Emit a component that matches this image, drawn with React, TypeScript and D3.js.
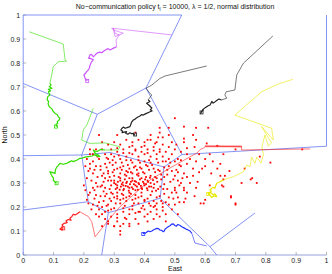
import React from "react";
import * as d3 from "d3";

type P = [number, number];

const xTicks = [0, 0.1, 0.2, 0.3, 0.4, 0.5, 0.6, 0.7, 0.8, 0.9, 1];
const xTickLabels = ["0", "0.1", "0.2", "0.3", "0.4", "0.5", "0.6", "0.7", "0.8", "0.9", "1"];
const yTicks = [0, 0.1, 0.2, 0.3, 0.4, 0.5, 0.6, 0.7, 0.8, 0.9, 1];
const yTickLabels = ["0", "0.1", "0.2", "0.3", "0.4", "0.5", "0.6", "0.7", "0.8", "0.9", "1"];

// Voronoi vertices / border points (data units)
const V1: P = [0.2443, 0.5863];
const V2: P = [0.4049, 0.6958];
const V3: P = [0.5236, 0.4188];
const V4: P = [0.4511, 0.2363];
const V5: P = [0.4642, 0.3667];
const V6: P = [0.1929, 0.4167];
const V7: P = [0.2146, 0.2221];
const V8: P = [0.2806, 0.1763];
const V9: P = [0.6159, 0.0346];
const VM: P = [0.2862, 0.4271];
const L1: P = [0, 0.7146];
const L2: P = [0, 0.4138];
const L3: P = [0, 0.1875];
const T1: P = [0.5226, 1];
const R1: P = [1, 0.4533];
const B1: P = [0.2588, 0];
const B2: P = [0.638, 0];
const D1: P = [0.7643, 0.175];

const voronoiEdges: P[][] = [
  [L1, V1], [V1, V2], [V2, T1], [V2, V3], [V3, R1], [V1, V6], [L2, V6],
  [V6, VM, V5], [V5, V3], [V5, V4], [V6, V7], [V7, L3], [V7, V8], [V8, B1],
  [V8, V4], [V4, V9], [V9, B2], [V9, D1],
  [[0, 0], [0, 1], T1], [[1, 1], R1],
];

const greenUpperTravel: P[] = [[0.02, 0.93], [0.132, 0.879], [0.138, 0.813], [0.143, 0.808], [0.116, 0.805], [0.099, 0.785], [0.094, 0.75], [0.088, 0.715]];
const greenUpperCluster: P[] = [[0.088, 0.715], [0.092, 0.708], [0.086, 0.701], [0.095, 0.695], [0.083, 0.69], [0.09, 0.684], [0.083, 0.68], [0.088, 0.667], [0.081, 0.66], [0.079, 0.646], [0.084, 0.64], [0.082, 0.63], [0.086, 0.618], [0.094, 0.61], [0.098, 0.6], [0.105, 0.59], [0.112, 0.585], [0.116, 0.575], [0.121, 0.57], [0.118, 0.562], [0.112, 0.555], [0.114, 0.549], [0.108, 0.545], [0.11, 0.538], [0.108, 0.535]];

const magentaTravel: P[] = [[0.49, 0.917], [0.292, 0.945], [0.297, 0.938], [0.33, 0.924], [0.303, 0.91], [0.297, 0.945], [0.303, 0.924], [0.317, 0.917], [0.306, 0.896], [0.308, 0.868]];
const magentaCluster: P[] = [[0.308, 0.868], [0.298, 0.862], [0.286, 0.854], [0.28, 0.86], [0.275, 0.857], [0.266, 0.85], [0.259, 0.843], [0.25, 0.845], [0.242, 0.84], [0.236, 0.832], [0.231, 0.826], [0.225, 0.836], [0.22, 0.833], [0.218, 0.826], [0.215, 0.82], [0.224, 0.818], [0.231, 0.813], [0.226, 0.806], [0.223, 0.799], [0.22, 0.79], [0.218, 0.778], [0.214, 0.77], [0.209, 0.764], [0.205, 0.756], [0.2, 0.75], [0.203, 0.742], [0.204, 0.736], [0.209, 0.73], [0.211, 0.725]];

const blackUpperTravel: P[] = [[0.823, 0.9125], [0.726, 0.799], [0.704, 0.75], [0.698, 0.6875], [0.669, 0.68], [0.665, 0.667], [0.671, 0.653], [0.654, 0.646]];
const blackUpperCluster: P[] = [[0.654, 0.646], [0.645, 0.65], [0.638, 0.644], [0.632, 0.638], [0.626, 0.633], [0.622, 0.64], [0.616, 0.625], [0.61, 0.622], [0.605, 0.618], [0.6, 0.614], [0.596, 0.61], [0.592, 0.606], [0.594, 0.604], [0.588, 0.598], [0.585, 0.59], [0.588, 0.594]];

const blackLowerTravel: P[] = [[0.605, 0.7875], [0.468, 0.746], [0.451, 0.736], [0.424, 0.708], [0.405, 0.695], [0.416, 0.676], [0.424, 0.667], [0.412, 0.646]];
const blackLowerCluster: P[] = [[0.412, 0.646], [0.418, 0.64], [0.407, 0.632], [0.414, 0.625], [0.424, 0.6125], [0.419, 0.605], [0.425, 0.6], [0.418, 0.597], [0.41, 0.592], [0.403, 0.588], [0.396, 0.583], [0.39, 0.585], [0.384, 0.578], [0.38, 0.576], [0.372, 0.57], [0.368, 0.565], [0.363, 0.5625], [0.358, 0.555], [0.355, 0.545], [0.352, 0.535], [0.345, 0.532], [0.336, 0.528], [0.33, 0.533], [0.325, 0.527], [0.322, 0.521], [0.328, 0.516], [0.326, 0.51], [0.333, 0.512], [0.341, 0.514], [0.338, 0.507], [0.345, 0.503], [0.352, 0.509], [0.358, 0.505], [0.363, 0.507], [0.367, 0.5], [0.369, 0.502]];

const yellowTravel: P[] = [[0.889, 0.732], [0.841, 0.7125], [0.786, 0.68], [0.698, 0.583], [0.819, 0.528], [0.825, 0.479], [0.786, 0.535], [0.819, 0.467], [0.808, 0.454], [0.797, 0.5], [0.787, 0.45], [0.792, 0.417], [0.784, 0.383], [0.77, 0.408], [0.764, 0.382], [0.753, 0.408], [0.748, 0.368], [0.737, 0.375], [0.726, 0.347], [0.715, 0.34], [0.693, 0.326], [0.676, 0.32], [0.66, 0.3125]];
const yellowCluster: P[] = [[0.66, 0.3125], [0.655, 0.31], [0.649, 0.305], [0.644, 0.302], [0.638, 0.299], [0.635, 0.29], [0.632, 0.278], [0.625, 0.282], [0.616, 0.271], [0.62, 0.265], [0.61, 0.257], [0.618, 0.26], [0.627, 0.25], [0.632, 0.255], [0.638, 0.243], [0.63, 0.246], [0.621, 0.24], [0.615, 0.25], [0.61, 0.254]];

const blueTravel: P[] = [[0.605, 0.0375], [0.566, 0.05], [0.56, 0.075], [0.556, 0.09]];
const blueCluster: P[] = [[0.556, 0.09], [0.55, 0.1], [0.544, 0.104], [0.537, 0.108], [0.53, 0.113], [0.523, 0.118], [0.516, 0.124], [0.51, 0.127], [0.505, 0.12], [0.5, 0.123], [0.495, 0.13], [0.49, 0.129], [0.484, 0.122], [0.478, 0.118], [0.472, 0.112], [0.468, 0.108], [0.465, 0.1], [0.462, 0.097], [0.456, 0.103], [0.451, 0.104], [0.446, 0.11], [0.44, 0.111], [0.434, 0.107], [0.429, 0.104], [0.424, 0.1], [0.418, 0.097], [0.412, 0.1], [0.408, 0.096], [0.402, 0.09], [0.398, 0.094], [0.396, 0.0875]];

const greenLowerTravel: P[] = [[0.231, 0.611], [0.21, 0.542], [0.198, 0.521], [0.193, 0.479], [0.22, 0.465], [0.27, 0.467], [0.319, 0.451], [0.313, 0.4375], [0.27, 0.4375]];
const greenLowerCluster: P[] = [[0.27, 0.4375], [0.255, 0.44], [0.245, 0.432], [0.237, 0.433], [0.231, 0.4375], [0.236, 0.426], [0.24, 0.421], [0.248, 0.416], [0.253, 0.41], [0.244, 0.412], [0.235, 0.418], [0.227, 0.4125], [0.215, 0.41], [0.204, 0.408], [0.195, 0.404], [0.187, 0.403], [0.178, 0.396], [0.165, 0.389], [0.16, 0.393], [0.154, 0.389], [0.148, 0.385], [0.143, 0.382], [0.132, 0.378], [0.121, 0.382], [0.115, 0.372], [0.111, 0.367], [0.106, 0.355], [0.105, 0.34], [0.095, 0.344], [0.088, 0.347], [0.092, 0.336], [0.095, 0.329], [0.1, 0.32], [0.099, 0.3125], [0.104, 0.305], [0.11, 0.299]];

const redTravel: P[] = [[0.946, 0.442], [0.72, 0.4375], [0.72, 0.454], [0.599, 0.454], [0.72, 0.451], [0.6, 0.451], [0.594, 0.445], [0.584, 0.44], [0.572, 0.424], [0.561, 0.417], [0.484, 0.3625], [0.418, 0.3125], [0.319, 0.201], [0.286, 0.153], [0.264, 0.118], [0.237, 0.076], [0.226, 0.139], [0.215, 0.16], [0.187, 0.18]];
const redCluster: P[] = [[0.187, 0.18], [0.178, 0.172], [0.171, 0.167], [0.165, 0.17], [0.16, 0.16], [0.154, 0.153], [0.158, 0.145], [0.148, 0.148], [0.141, 0.142], [0.145, 0.135], [0.135, 0.132], [0.128, 0.125], [0.132, 0.118], [0.125, 0.112], [0.121, 0.108], [0.128, 0.104], [0.132, 0.111]];

const eventPoints: P[] = [
  [0.30,0.30],[0.31,0.28],[0.32,0.31],[0.33,0.29],[0.34,0.30],[0.35,0.28],[0.36,0.31],[0.37,0.29],[0.38,0.30],[0.39,0.28],
  [0.40,0.29],[0.41,0.31],[0.42,0.30],[0.31,0.26],[0.33,0.27],[0.35,0.26],[0.37,0.27],[0.39,0.26],[0.41,0.27],[0.43,0.28],
  [0.30,0.33],[0.32,0.34],[0.34,0.33],[0.36,0.34],[0.38,0.33],[0.40,0.34],[0.42,0.33],[0.44,0.32],[0.29,0.29],[0.28,0.31],
  [0.325,0.295],[0.345,0.285],[0.355,0.305],[0.375,0.285],[0.385,0.315],[0.405,0.295],[0.415,0.285],[0.335,0.315],[0.365,0.295],[0.395,0.305],
  [0.30,0.24],[0.32,0.23],[0.34,0.24],[0.36,0.23],[0.38,0.24],[0.40,0.23],[0.42,0.25],[0.44,0.24],[0.29,0.26],[0.27,0.28],
  [0.31,0.36],[0.33,0.37],[0.35,0.36],[0.37,0.37],[0.39,0.36],[0.41,0.37],[0.43,0.36],[0.45,0.35],[0.28,0.35],[0.26,0.33],
  [0.315,0.325],[0.345,0.345],[0.375,0.355],[0.405,0.325],[0.435,0.345],[0.455,0.315],[0.465,0.295],[0.445,0.275],[0.425,0.265],[0.355,0.255],
  [0.325,0.255],[0.305,0.275],[0.285,0.325],[0.295,0.345],[0.265,0.305],[0.275,0.255],[0.305,0.215],[0.335,0.205],[0.365,0.215],[0.395,0.205],
  [0.415,0.215],[0.435,0.205],[0.455,0.225],[0.465,0.255],[0.475,0.275],[0.485,0.305],[0.475,0.335],[0.465,0.365],[0.445,0.385],[0.415,0.395],
  [0.385,0.385],[0.355,0.395],[0.325,0.385],[0.295,0.375],[0.275,0.365],[0.255,0.355],[0.245,0.325],[0.255,0.285],[0.265,0.265],[0.285,0.235],
  [0.34,0.35],[0.36,0.32],[0.38,0.34],[0.32,0.32],[0.30,0.31],[0.37,0.25],[0.39,0.32],[0.35,0.32],[0.33,0.25],[0.31,0.29],
  [0.21,0.40],[0.22,0.36],[0.21,0.32],[0.20,0.29],[0.22,0.26],[0.21,0.23],[0.23,0.21],[0.22,0.38],[0.23,0.34],[0.24,0.30],
  [0.23,0.42],[0.25,0.40],[0.24,0.37],[0.25,0.22],[0.24,0.25],[0.26,0.20],[0.27,0.18],[0.28,0.21],[0.29,0.19],[0.31,0.17],
  [0.33,0.18],[0.35,0.17],[0.36,0.19],[0.38,0.18],[0.40,0.19],[0.42,0.18],[0.44,0.19],[0.46,0.20],[0.47,0.22],[0.48,0.24],
  [0.49,0.26],[0.50,0.28],[0.51,0.31],[0.50,0.33],[0.49,0.35],[0.48,0.37],[0.47,0.39],[0.46,0.41],[0.44,0.42],[0.42,0.41],
  [0.40,0.42],[0.38,0.41],[0.36,0.42],[0.34,0.41],[0.32,0.40],[0.30,0.41],[0.28,0.40],[0.27,0.42],[0.26,0.44],[0.29,0.44],
  [0.31,0.43],[0.33,0.44],[0.35,0.45],[0.37,0.44],[0.39,0.45],[0.41,0.44],[0.43,0.45],[0.45,0.44],[0.47,0.43],[0.49,0.42],
  [0.51,0.40],[0.52,0.37],[0.53,0.34],[0.52,0.30],[0.53,0.27],[0.51,0.24],[0.50,0.21],[0.49,0.19],[0.47,0.17],[0.45,0.16],
  [0.43,0.15],[0.40,0.16],[0.37,0.15],[0.34,0.15],[0.31,0.14],[0.29,0.16],[0.27,0.15],[0.30,0.12],[0.33,0.13],[0.26,0.12],
  [0.28,0.13],[0.32,0.10],[0.35,0.12],[0.38,0.13],[0.41,0.14],[0.24,0.17],[0.25,0.19],[0.23,0.28],[0.27,0.38],[0.29,0.42],
  [0.24,0.44],[0.22,0.44],[0.26,0.47],[0.28,0.46],[0.30,0.47],[0.32,0.46],[0.34,0.48],[0.36,0.47],[0.38,0.48],[0.40,0.47],
  [0.42,0.48],[0.44,0.47],[0.46,0.46],[0.48,0.45],[0.50,0.44],[0.52,0.43],[0.54,0.42],[0.55,0.40],[0.54,0.38],[0.56,0.36],
  [0.45,0.53],[0.50,0.57],[0.53,0.535],[0.48,0.53],[0.57,0.53],[0.61,0.53],[0.46,0.49],[0.445,0.49],[0.41,0.48],[0.435,0.465],
  [0.49,0.47],[0.505,0.46],[0.53,0.485],[0.56,0.50],[0.565,0.45],[0.54,0.445],[0.57,0.48],[0.605,0.465],[0.64,0.455],[0.615,0.42],
  [0.625,0.39],[0.65,0.38],[0.60,0.37],[0.58,0.345],[0.92,0.44],[0.815,0.385],[0.66,0.315],[0.655,0.29],[0.66,0.285],[0.685,0.24],
  [0.70,0.21],[0.75,0.315],[0.77,0.30],[0.65,0.33],[0.665,0.33],[0.615,0.29],[0.755,0.32],[0.685,0.245],[0.70,0.215],[0.60,0.23],
  [0.595,0.215],[0.585,0.215],[0.565,0.245],[0.535,0.235],[0.515,0.22],[0.50,0.27],[0.53,0.28],[0.54,0.325],[0.575,0.305],[0.43,0.20],
  [0.46,0.215],[0.385,0.18],[0.335,0.155],[0.32,0.12],[0.32,0.085],[0.30,0.12],[0.35,0.13],[0.25,0.50],[0.31,0.50],[0.37,0.51],
  [0.42,0.50],[0.58,0.42],[0.60,0.40],[0.57,0.39],[0.59,0.36],[0.56,0.33],[0.55,0.30],[0.57,0.28],[0.54,0.26],[0.53,0.22],
  [0.51,0.17],[0.47,0.14],[0.62,0.34],[0.64,0.36],[0.68,0.35],[0.72,0.30],[0.73,0.36],[0.78,0.41],[0.66,0.42],[0.70,0.44],
  [0.45,0.51],[0.48,0.50],[0.53,0.47],
  [0.215,0.35],[0.225,0.31],[0.235,0.27],[0.215,0.25],[0.23,0.39],[0.245,0.41],[0.255,0.37],[0.265,0.34],[0.235,0.355],[0.245,0.285],
  [0.255,0.245],[0.265,0.225],[0.275,0.205],[0.285,0.275],[0.295,0.255],[0.285,0.385],[0.275,0.405],[0.295,0.395],[0.305,0.385],[0.315,0.415],
  [0.325,0.355],[0.335,0.335],[0.345,0.375],[0.355,0.345],[0.365,0.365],[0.375,0.335],[0.385,0.365],[0.395,0.345],[0.405,0.375],[0.415,0.355],
  [0.425,0.375],[0.435,0.325],[0.445,0.355],[0.455,0.335],[0.465,0.325],[0.475,0.355],[0.485,0.385],[0.495,0.315],[0.505,0.355],[0.515,0.375],
  [0.312,0.305],[0.322,0.285],[0.332,0.275],[0.342,0.305],[0.352,0.295],[0.362,0.275],[0.372,0.305],[0.382,0.295],[0.392,0.275],[0.402,0.315],
  [0.412,0.305],[0.422,0.285],[0.432,0.295],[0.442,0.305],[0.452,0.285],[0.462,0.275],[0.305,0.295],[0.318,0.272],[0.328,0.302],[0.338,0.288],
  [0.348,0.268],[0.358,0.282],[0.368,0.308],[0.378,0.272],[0.388,0.288],[0.398,0.298],[0.408,0.278],[0.418,0.322],[0.428,0.312],[0.438,0.268],
  [0.31,0.245],[0.33,0.235],[0.35,0.245],[0.37,0.235],[0.39,0.245],[0.41,0.235],[0.43,0.225],[0.45,0.245],[0.32,0.215],[0.34,0.225],
  [0.36,0.205],[0.38,0.215],[0.40,0.225],[0.42,0.205],[0.44,0.215],[0.35,0.19],[0.37,0.175],[0.39,0.195],[0.41,0.17],[0.33,0.195],
  [0.30,0.195],[0.28,0.185],[0.26,0.17],[0.29,0.225],[0.31,0.235],[0.27,0.245],[0.26,0.29],[0.27,0.32],[0.29,0.31],[0.28,0.34],
  [0.30,0.355],[0.32,0.365],[0.34,0.395],[0.36,0.385],[0.38,0.395],[0.40,0.39],[0.42,0.385],[0.44,0.40],[0.46,0.39],[0.48,0.40],
  [0.50,0.39],[0.52,0.395],[0.51,0.345],[0.525,0.32],[0.515,0.29],[0.505,0.26],[0.495,0.235],[0.48,0.21],[0.46,0.185],[0.44,0.17],
  [0.37,0.435],[0.35,0.425],[0.33,0.425],[0.31,0.445],[0.39,0.43],[0.41,0.425],[0.43,0.435],[0.45,0.43],[0.36,0.455],[0.40,0.455],
  [0.22,0.42],[0.205,0.37],[0.205,0.27],[0.215,0.215],[0.235,0.235],[0.245,0.205],[0.225,0.19],[0.25,0.16],[0.28,0.14],[0.31,0.155],
];

const robots = [
  { color: "#33dd00", travel: greenUpperTravel, cluster: greenUpperCluster },
  { color: "#cc55ff", travel: magentaTravel, cluster: magentaCluster },
  { color: "#222222", travel: blackUpperTravel, cluster: blackUpperCluster },
  { color: "#222222", travel: blackLowerTravel, cluster: blackLowerCluster },
  { color: "#e8e800", travel: yellowTravel, cluster: yellowCluster },
  { color: "#2233ff", travel: blueTravel, cluster: blueCluster },
  { color: "#33dd00", travel: greenLowerTravel, cluster: greenLowerCluster },
  { color: "#ff2020", travel: redTravel, cluster: redCluster },
];

export default function App() {
  const W = 332, H = 274;
  const x = d3.scaleLinear().domain([0, 1]).range([23.2, 326.5]);
  const y = d3.scaleLinear().domain([0, 1]).range([255, 15]);
  const line = d3.line<P>().x((d) => x(d[0])).y((d) => y(d[1]));
  const font = "'Liberation Sans', Arial, Helvetica, sans-serif";
  const vBlue = "#6478f2";

  return (
    <svg width={W} height={H} style={{ position: "absolute", left: 0, top: 0, background: "#fff" }} fontFamily={font}>
      <line x1={x(0)} x2={x(1)} y1={y(0)} y2={y(0)} stroke="#8c96d8" strokeWidth={0.9} />
      {xTicks.map((t, i) => (
        <g key={"xt" + i}>
          <line x1={x(t)} x2={x(t)} y1={y(0)} y2={y(0) - 3} stroke="#888" strokeWidth={0.6} />
          <text x={x(t)} y={y(0) + 8} fontSize={7} textAnchor="middle" fill="#222">{xTickLabels[i]}</text>
        </g>
      ))}
      {yTicks.map((t, i) => (
        <g key={"yt" + i}>
          <line x1={x(0)} x2={x(0) + 3} y1={y(t)} y2={y(t)} stroke="#888" strokeWidth={0.6} />
          <text x={x(0) - 3} y={y(t) + 2.5} fontSize={7} textAnchor="end" fill="#222">{yTickLabels[i]}</text>
        </g>
      ))}
      {voronoiEdges.map((e, i) => (
        <path key={"v" + i} d={line(e) || ""} fill="none" stroke={vBlue} strokeWidth={0.8} />
      ))}
      {eventPoints.map((p, i) => (
        <rect key={"e" + i} x={x(p[0]) - 0.9} y={y(p[1]) - 0.9} width={1.8} height={1.8} fill="#ff0000" />
      ))}
      {robots.map((r, i) => {
        const end = r.cluster[r.cluster.length - 1];
        return (
          <g key={"r" + i}>
            <path d={line(r.travel) || ""} fill="none" stroke={r.color} strokeWidth={0.6} />
            <path d={line(r.cluster) || ""} fill="none" stroke={r.color} strokeWidth={1.2} strokeLinejoin="round" />
            <rect x={x(end[0]) - 1.5} y={y(end[1]) - 1.5} width={3} height={3} fill="none" stroke={r.color} strokeWidth={0.8} />
          </g>
        );
      })}
      <text x={175} y={9} fontSize={7} textAnchor="middle" fill="#111">
        No−communication policy t<tspan fontSize={5} dy={1.5}>l</tspan><tspan dy={-1.5}> = 10000, λ = 1/2, normal distribution</tspan>
      </text>
      <text x={175} y={271} fontSize={7} textAnchor="middle" fill="#111">East</text>
      <text transform={`translate(7,135) rotate(-90)`} fontSize={7} textAnchor="middle" fill="#111">North</text>
    </svg>
  );
}
